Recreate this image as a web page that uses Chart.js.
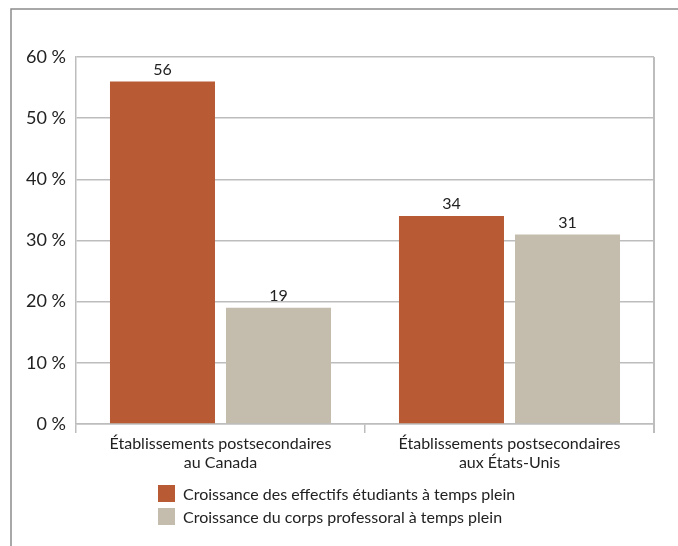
<!DOCTYPE html>
<html lang="fr">
<head>
<meta charset="utf-8">
<script src="https://cdn.jsdelivr.net/npm/chart.js@4/dist/chart.umd.min.js"></script>
<style>
  html, body { margin: 0; padding: 0; background: #fff; }
  #wrap { position: relative; width: 678px; height: 546px; }
  #growthChart { position: absolute; left: 0; top: 0; }
  .legend { position: absolute; left: 158px; font-family: Lato, "Noto Sans", sans-serif; font-size: 16px; color: #222; }
  .legend div { position: relative; height: 23px; line-height: 17px; padding-left: 25px; }
  .legend span { position: absolute; left: 0; top: 0; width: 17px; height: 17px; }
</style>
</head>
<body>
<div id="wrap">
  <canvas id="growthChart" width="678" height="546"></canvas>
  <div class="legend" id="legend" style="top:485px"></div>
</div>
<script>
// Croissance en pourcentage, établissements canadiens et américains
const categories = [
  ['Établissements postsecondaires', 'au Canada'],
  ['Établissements postsecondaires', 'aux États-Unis']
];
const seriesNames = [
  'Croissance des effectifs étudiants à temps plein',
  'Croissance du corps professoral à temps plein'
];
const studentGrowth = [56, 34];
const facultyGrowth = [19, 31];
const yTicks = [0, 10, 20, 30, 40, 50, 60];

const colors = ['#b85b34', '#c4bdad'];
const fontFamily = 'Lato, "Noto Sans", sans-serif';

// Cadre extérieur, bordure droite du graphique et valeurs au-dessus des barres
const framePlugin = {
  id: 'frame',
  afterDraw(chart) {
    const ctx = chart.ctx;
    const area = chart.chartArea;
    ctx.save();
    ctx.strokeStyle = '#8c8c8c';
    ctx.lineWidth = 1.5;
    ctx.beginPath();
    ctx.moveTo(11, chart.height);
    ctx.lineTo(11, 9);
    ctx.lineTo(chart.width, 9);
    ctx.stroke();

    ctx.strokeStyle = '#bdbdbd';
    ctx.lineWidth = 2;
    ctx.beginPath();
    ctx.moveTo(area.right, area.top);
    ctx.lineTo(area.right, area.bottom + 9);
    ctx.stroke();

    ctx.fillStyle = '#222';
    ctx.font = '16px ' + fontFamily;
    ctx.textAlign = 'center';
    ctx.textBaseline = 'bottom';
    chart.data.datasets.forEach((ds, i) => {
      chart.getDatasetMeta(i).data.forEach((bar, j) => {
        ctx.fillText(ds.data[j], bar.x, bar.y - 4);
      });
    });
    ctx.restore();
  }
};

const ctx = document.getElementById('growthChart').getContext('2d');
new Chart(ctx, {
  type: 'bar',
  data: {
    labels: categories,
    datasets: [{
      label: seriesNames[0],
      data: studentGrowth,
      backgroundColor: colors[0]
    }, {
      label: seriesNames[1],
      data: facultyGrowth,
      backgroundColor: colors[1]
    }]
  },
  options: {
    responsive: false,
    animation: false,
    layout: { padding: { left: 0, top: 57, right: 24, bottom: 0 } },
    categoryPercentage: 0.803,
    barPercentage: 0.905,
    scales: {
      y: {
        min: 0,
        max: 60,
        afterFit: scale => { scale.width = 76; },
        afterBuildTicks: scale => { scale.ticks = yTicks.map(v => ({ value: v })); },
        grid: { color: '#bdbdbd', lineWidth: 1.5, drawTicks: false },
        border: { display: true, color: '#bdbdbd', width: 1.5 },
        ticks: {
          padding: 10,
          color: '#222',
          font: { family: fontFamily, size: 18 },
          callback: value => value + ' %'
        }
      },
      x: {
        afterFit: scale => { scale.height = 122; },
        grid: { drawOnChartArea: false, drawTicks: true, tickLength: 9, color: '#bdbdbd', lineWidth: 1.5 },
        border: { display: true, color: '#bdbdbd', width: 1.5 },
        ticks: {
          padding: 1,
          color: '#222',
          maxRotation: 0,
          font: { family: fontFamily, size: 16, lineHeight: 1.2 }
        }
      }
    },
    plugins: {
      legend: { display: false },
      tooltip: { enabled: false }
    }
  },
  plugins: [framePlugin]
});

// Légende en HTML, alignée à gauche
const legend = document.getElementById('legend');
seriesNames.forEach((name, i) => {
  const row = document.createElement('div');
  row.innerHTML = `<span style="background:${colors[i]}"></span>${name}`;
  legend.appendChild(row);
});
</script>
</body>
</html>
